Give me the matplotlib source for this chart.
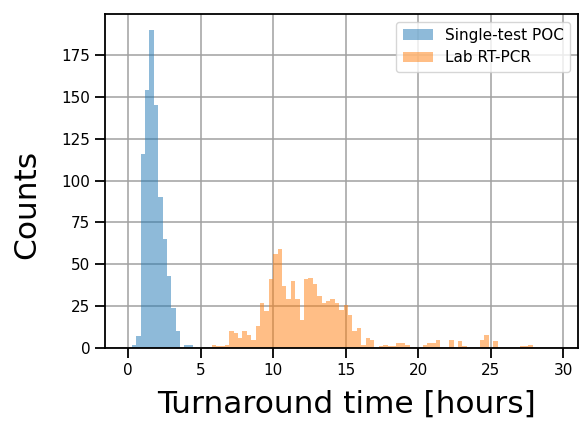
import numpy as np
import matplotlib
matplotlib.use("Agg")
import matplotlib.pyplot as plt

# Histogramas (conteos por bin)
poc_start = 0.28      # borde izquierdo del primer bin [h]
poc_width = 0.30      # ancho de bin [h]
poc_counts = [2, 7, 116, 154, 190, 145, 90, 65, 43, 24, 10, 0, 2, 2]

lab_start = 5.755
lab_width = 0.3032
lab_counts = [2, 1, 1, 2, 10, 9, 6, 10, 8, 5,
              13, 27, 22, 41, 56, 59, 37, 29, 40, 29,
              17, 41, 42, 38, 31, 27, 28, 29, 27, 23,
              26, 20, 10, 12, 2, 6, 5, 0, 1, 2,
              1, 1, 3, 3, 2, 0, 0, 0, 2, 3,
              3, 5, 0, 0, 5, 0, 4, 1, 0, 0,
              0, 5, 8, 0, 4, 0, 0, 0, 0, 0,
              1, 1, 2]

labels = ["Single-test POC", "Lab RT-PCR"]


def bordes(inicio, ancho, n):
    return inicio + ancho * np.arange(n + 1)


poc_edges = bordes(poc_start, poc_width, len(poc_counts))
lab_edges = bordes(lab_start, lab_width, len(lab_counts))

fig = plt.figure(figsize=(5.82, 4.26), dpi=100)
ax = fig.add_axes([0.180, 0.183, 0.813, 0.784])

ax.hist(poc_edges[:-1] + poc_width / 2, bins=poc_edges, weights=poc_counts,
        alpha=0.5, color="tab:blue", label=labels[0])
ax.hist(lab_edges[:-1] + lab_width / 2, bins=lab_edges, weights=lab_counts,
        alpha=0.5, color="tab:orange", label=labels[1])

ax.set_xlim(-1.6, 31.0)
ax.set_ylim(0, 199.5)
ax.set_xticks([0, 5, 10, 15, 20, 25, 30])
ax.set_yticks([0, 25, 50, 75, 100, 125, 150, 175])
ax.grid(True, color="#a0a0a0", linewidth=1.1)
ax.set_axisbelow(True)
ax.tick_params(labelsize=11, length=7, width=1.3)
for s in ax.spines.values():
    s.set_linewidth(1.3)

ax.set_xlabel("Turnaround time [hours]", fontsize=22.5)
ax.set_ylabel("Counts", fontsize=22.5)
ax.xaxis.set_label_coords(0.51, -0.125)
ax.yaxis.set_label_coords(-0.135, 0.43)
ax.legend(loc="upper right", fontsize=11)

fig.savefig("out.png", dpi=100)
